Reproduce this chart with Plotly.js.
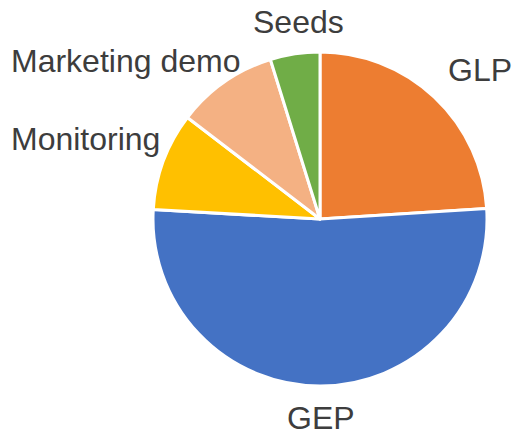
<!DOCTYPE html>
<html>
<head>
<meta charset="utf-8">
<script src="https://cdn.plot.ly/plotly-3.0.1.min.js"></script>
<style>html,body{margin:0;padding:0;background:#fff;}#chart{width:513px;height:435px;}</style>
</head>
<body>
<div id="chart"></div>
<script>
// Data
const categories = ["GLP", "GEP", "Monitoring", "Marketing demo", "Seeds"];
const values = [24.0, 51.9, 9.5, 9.8, 4.8];
const colors = ["#ED7D31", "#4472C4", "#FFC000", "#F4B183", "#70AD47"];

// Label placement (pixel centres of each label)
const W = 513, H = 435;
const labelPx = [[480, 70], [321, 418], [85, 139], [125, 61], [298, 22]];

const annotations = categories.map((c, i) => ({
  text: c,
  xref: "paper", yref: "paper",
  x: labelPx[i][0] / W, y: 1 - labelPx[i][1] / H,
  xanchor: "center", yanchor: "middle",
  showarrow: false,
  font: {family: "Liberation Sans, Arial, sans-serif", size: 32, color: "#3d3d3d"}
}));

const cx = 320, cy = 219, r = 167;
const trace = {
  type: "pie",
  labels: categories,
  values: values,
  sort: false,
  direction: "clockwise",
  rotation: 0,
  textinfo: "none",
  hoverinfo: "label+percent",
  marker: {colors: colors, line: {color: "#ffffff", width: 3}},
  domain: {x: [(cx - r) / W, (cx + r) / W], y: [1 - (cy + r) / H, 1 - (cy - r) / H]}
};

Plotly.newPlot("chart", [trace], {
  width: W, height: H,
  margin: {l: 0, r: 0, t: 0, b: 0},
  showlegend: false,
  paper_bgcolor: "#ffffff",
  annotations: annotations
}, {displayModeBar: false, staticPlot: true});
</script>
</body>
</html>
